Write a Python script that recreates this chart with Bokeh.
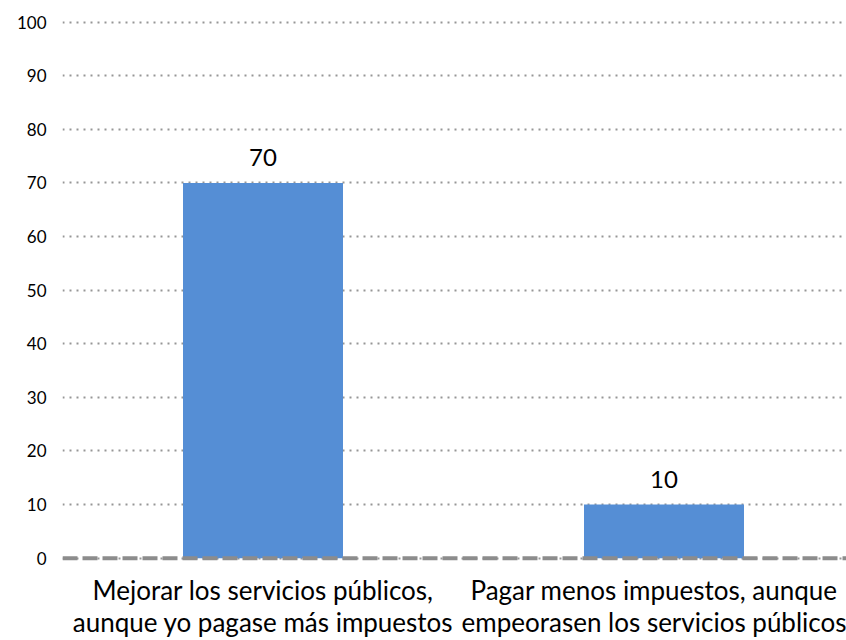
from bokeh.plotting import figure
from bokeh.models import Range1d, FixedTicker, Span, ColumnDataSource
from bokeh.core.properties import value
from bokeh.embed import file_html
from bokeh.resources import INLINE

categories = ["Mejorar los servicios públicos,\naunque yo pagase más impuestos",
              "Pagar menos impuestos, aunque\nempeorasen los servicios públicos"]
values = [70, 10]
y_ticks = [0, 10, 20, 30, 40, 50, 60, 70, 80, 90, 100]

FONT = "Lato"
W, H = 846, 640
left, top, bottom = 62, 20, 70
frame_w = W - left
slot = 401.0
xs = [0.5 + i for i in range(len(categories))]

p = figure(width=W, height=H, output_backend="svg", toolbar_location=None,
           x_range=Range1d(0, frame_w / slot), y_range=Range1d(-0.8, 100.3),
           min_border_left=left, min_border_right=0, min_border_top=top,
           min_border_bottom=bottom)
p.outline_line_color = None
p.background_fill_color = "white"

src = ColumnDataSource(dict(x=xs, top=values, label=[str(v) for v in values]))
p.vbar(x="x", top="top", bottom=0, width=160 / slot, source=src,
       fill_color="#558ED5", line_color=None)
p.text(x="x", y="top", text="label", source=src, text_align="center",
       text_baseline="alphabetic", y_offset=-25, text_font=value(FONT),
       text_font_size="24px", text_color="#000000")

p.add_layout(Span(location=0, dimension="width", line_color="#8c8c8c",
                  line_width=4, line_dash="15 5"))

p.yaxis.ticker = FixedTicker(ticks=y_ticks)
p.yaxis.axis_line_color = None
p.yaxis.major_tick_line_color = None
p.yaxis.minor_tick_line_color = None
p.yaxis.major_tick_out = 0
p.yaxis.major_tick_in = 0
p.yaxis.major_label_text_font = FONT
p.yaxis.major_label_text_font_size = "17px"
p.yaxis.major_label_text_color = "#000000"
p.yaxis.major_label_standoff = 16

p.xaxis.ticker = FixedTicker(ticks=xs)
p.xaxis.major_label_overrides = {x: c for x, c in zip(xs, categories)}
p.xaxis.axis_line_color = None
p.xaxis.major_tick_line_color = None
p.xaxis.minor_tick_line_color = None
p.xaxis.major_tick_out = 0
p.xaxis.major_tick_in = 0
p.xaxis.axis_label_standoff = 0
p.xaxis.major_label_text_font = FONT
p.xaxis.major_label_text_font_size = "26px"
p.xaxis.major_label_text_line_height = 1.0
p.xaxis.major_label_text_color = "#000000"
p.xaxis.major_label_standoff = 11

p.xgrid.grid_line_color = None
p.ygrid.grid_line_color = "#969696"
p.ygrid.grid_line_width = 2
p.ygrid.grid_line_dash = "2 5"

open("out.html", "w").write(file_html(p, INLINE))
